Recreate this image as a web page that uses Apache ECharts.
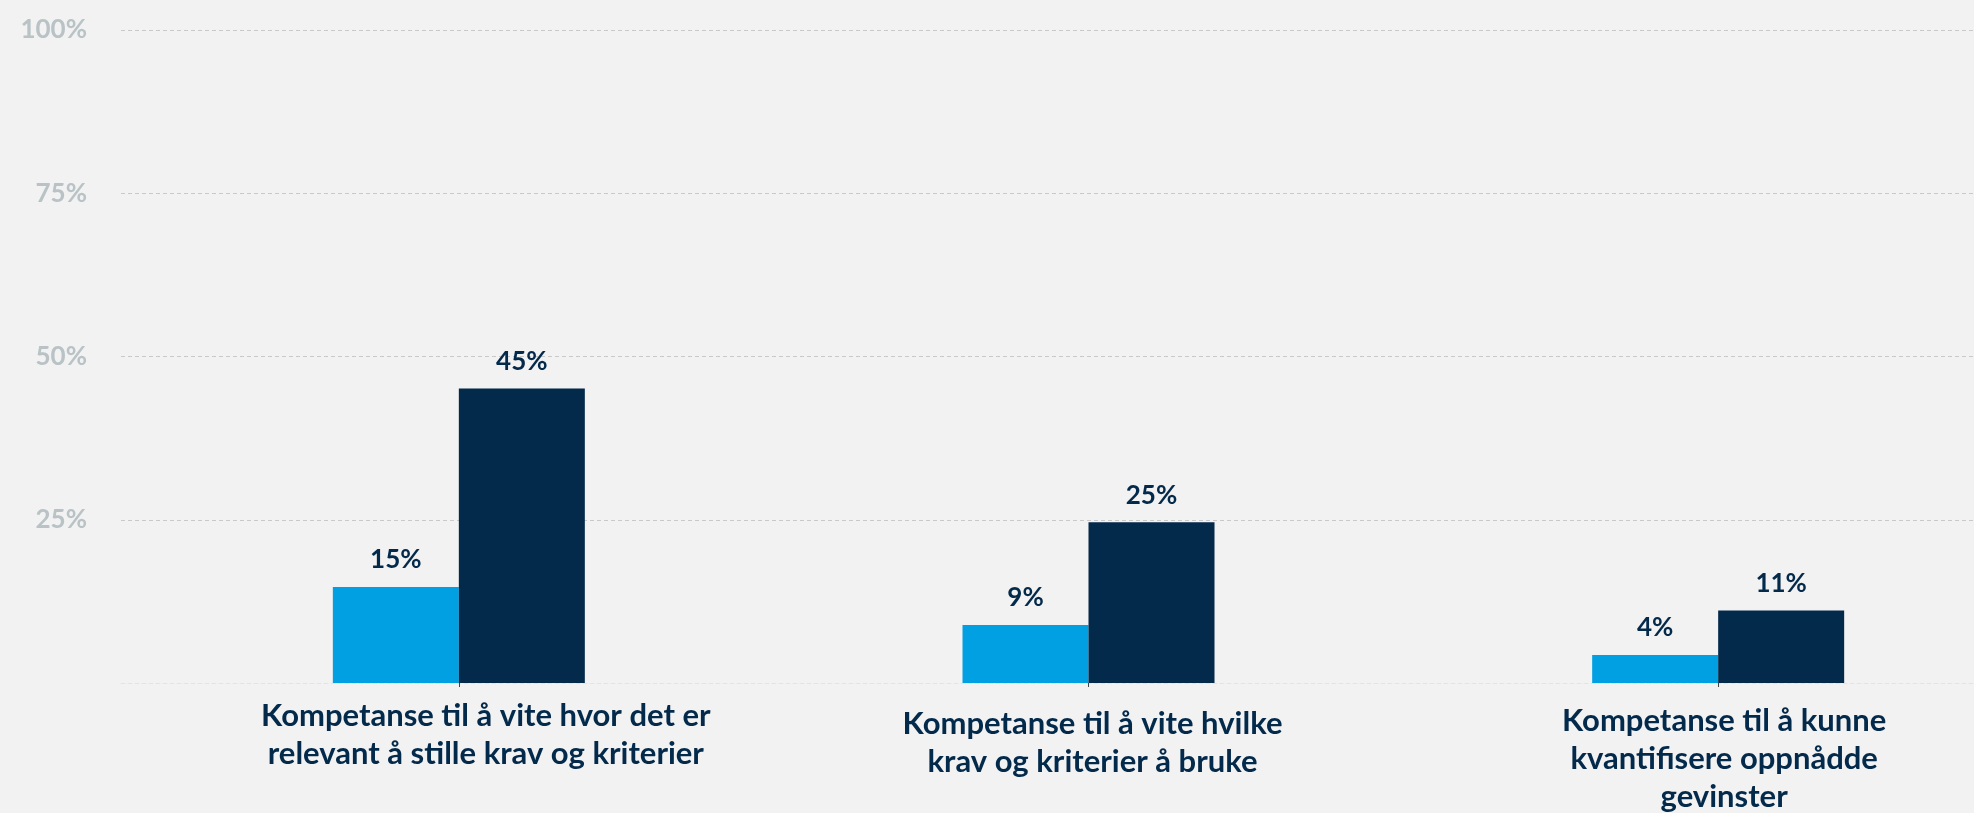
<!DOCTYPE html>
<html>
<head>
<meta charset="utf-8">
<script src="https://cdn.jsdelivr.net/npm/echarts@6/dist/echarts.min.js"></script>
<style>
  html, body { margin: 0; padding: 0; background: #f2f2f2; }
  #chart { width: 1974px; height: 813px; }
</style>
</head>
<body>
<div id="chart"></div>
<script>
// kategorier og verdier (lest av bildet)
var categories = [
  'Kompetanse til å vite hvor det er\nrelevant å stille krav og kriterier',
  'Kompetanse til å vite hvilke\nkrav og kriterier å bruke',
  'Kompetanse til å kunne\nkvantifisere oppnådde\ngevinster'
];
var lightValues = [14.7, 8.9, 4.3];
var darkValues = [45.1, 24.6, 11.1];

var FONT = 'Lato, "Noto Sans", sans-serif';
var NAVY = '#03294b';
var BLUE = '#00a0e2';

var myChart = echarts.init(document.getElementById('chart'));

var labelPads = [[4, 0, 0, 54], [12, 0, 0, 8], [9, 0, 0, 12]];
var catData = [];
for (var i = 0; i < categories.length; i++) {
  catData.push({ value: categories[i], textStyle: { padding: labelPads[i] } });
}

var valueLabel = {
  show: true,
  position: 'top',
  distance: 14,
  color: NAVY,
  fontFamily: FONT,
  fontWeight: 'bold',
  fontSize: 26,
  formatter: function (p) { return Math.round(p.value) + '%'; }
};

var option = {
  backgroundColor: '#f2f2f2',
  animation: false,
  grid: [
    { left: 121, right: 0, top: 30, bottom: 130, outerBoundsMode: 'none' },
    // bar grid runs a bit past the right edge, like the original
    { left: 144, width: 1889, top: 30, bottom: 130, outerBoundsMode: 'none' }
  ],
  xAxis: [
    {
      gridIndex: 0, type: 'value', min: 0, max: 1,
      axisLabel: { show: false }, axisTick: { show: false }, splitLine: { show: false },
      axisLine: { show: true, lineStyle: { color: '#e4e4e4', type: [4, 3], width: 1 } }
    },
    {
      gridIndex: 1, type: 'category', data: catData,
      axisLine: { show: false },
      axisTick: { show: true, alignWithLabel: true, length: 4, lineStyle: { color: '#444' } },
      axisLabel: {
        interval: 0,
        margin: 10,
        color: NAVY,
        fontFamily: FONT,
        fontWeight: 'bold',
        fontSize: 31,
        lineHeight: 38
      }
    }
  ],
  yAxis: [
    {
      gridIndex: 0, type: 'value', min: 0, max: 100, interval: 25,
      axisLine: { show: false }, axisTick: { show: false },
      axisLabel: {
        margin: 34,
        color: '#b9c3c6',
        fontFamily: FONT,
        fontWeight: 'bold',
        fontSize: 26,
        formatter: function (v) { return v === 0 ? '' : v + '%'; }
      },
      splitLine: { show: true, showMinLine: false, lineStyle: { color: '#c9c9c9', type: [4, 3], width: 1 } }
    },
    {
      gridIndex: 1, type: 'value', min: 0, max: 100, interval: 25,
      axisLine: { show: false }, axisTick: { show: false },
      axisLabel: { show: false }, splitLine: { show: false }
    }
  ],
  series: [
    {
      type: 'bar', xAxisIndex: 1, yAxisIndex: 1,
      data: lightValues, barWidth: 126, barGap: '0%',
      itemStyle: { color: BLUE },
      label: valueLabel
    },
    {
      type: 'bar', xAxisIndex: 1, yAxisIndex: 1,
      data: darkValues, barWidth: 126, barGap: '0%',
      itemStyle: { color: NAVY },
      label: valueLabel
    }
  ]
};
myChart.setOption(option);
</script>
</body>
</html>
